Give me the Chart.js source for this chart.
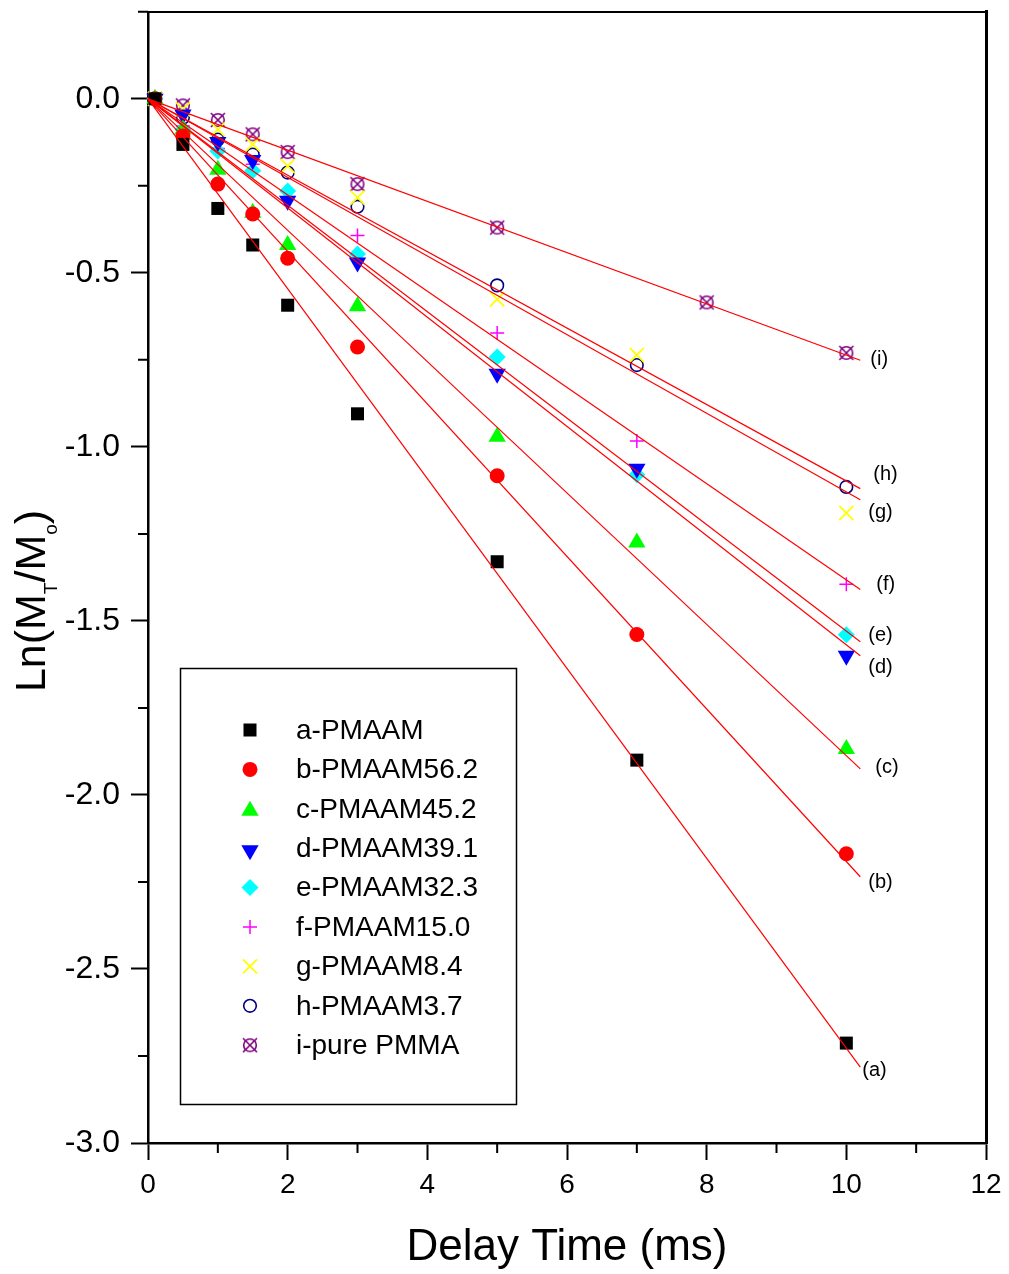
<!DOCTYPE html>
<html>
<head>
<meta charset="utf-8">
<script src="https://cdn.jsdelivr.net/npm/chart.js@4.4.1/dist/chart.umd.min.js"></script>
<style>
  html, body { margin: 0; padding: 0; background: #fff; }
  #wrap { width: 1009px; height: 1274px; position: relative; }
</style>
</head>
<body>
<div id="wrap"><canvas id="chart"></canvas></div>
<script>
// Datos
const seriesNames = ['a-PMAAM', 'b-PMAAM56.2', 'c-PMAAM45.2', 'd-PMAAM39.1', 'e-PMAAM32.3',
                     'f-PMAAM15.0', 'g-PMAAM8.4', 'h-PMAAM3.7', 'i-pure PMMA'];
const fitLabels = ['(a)', '(b)', '(c)', '(d)', '(e)', '(f)', '(g)', '(h)', '(i)'];

const delayTimes = [0.1, 0.5, 1, 1.5, 2, 3, 5, 7, 10];
const delayTimesPMMA = [0.1, 0.5, 1, 1.5, 2, 3, 5, 8, 10];

const lnA = [0, -0.131, -0.315, -0.420, -0.593, -0.905, -1.330, -1.900, -2.713];
const lnB = [0, -0.107, -0.245, -0.331, -0.458, -0.713, -1.083, -1.539, -2.169];
const lnC = [0, -0.088, -0.204, -0.327, -0.420, -0.596, -0.971, -1.275, -1.868];
const lnD = [0, -0.045, -0.124, -0.176, -0.293, -0.470, -0.790, -1.063, -1.600];
const lnE = [0, -0.088, -0.150, -0.207, -0.265, -0.446, -0.742, -1.080, -1.540];
const lnF = [0, -0.078, -0.143, -0.188, -0.265, -0.393, -0.673, -0.983, -1.395];
const lnG = [0, -0.030, -0.088, -0.131, -0.193, -0.284, -0.576, -0.736, -1.190];
const lnH = [0, -0.054, -0.117, -0.160, -0.212, -0.310, -0.536, -0.765, -1.115];
const lnI = [0, -0.019, -0.061, -0.102, -0.153, -0.245, -0.370, -0.585, -0.730];

// rectas de ajuste: desde (0,0) hasta x = 10.2
const fitRangeX = [0, 10.2];
const fitStartY = [0, 0, 0, 0, 0, 0, 0, 0, 0];
const fitEndY = [-2.782, -2.235, -1.925, -1.600, -1.560, -1.410, -1.152, -1.120, -0.751];

const xTickLabels = [0, 2, 4, 6, 8, 10, 12];
const yTickLabels = ['0.0', '-0.5', '-1.0', '-1.5', '-2.0', '-2.5', '-3.0'];

// Estilos
function crossedCircle(color) {
    const c = document.createElement('canvas');
    c.width = 20; c.height = 20;
    const g = c.getContext('2d');
    g.strokeStyle = color;
    g.lineWidth = 1.6;
    g.beginPath(); g.arc(10, 10, 6.3, 0, 2 * Math.PI); g.stroke();
    g.beginPath();
    g.moveTo(3, 3); g.lineTo(17, 17);
    g.moveTo(17, 3); g.lineTo(3, 17);
    g.stroke();
    return c;
}

const markers = [
    { color: '#000000', style: 'rect', radius: 9.2, rotation: 0, fill: true },
    { color: '#ff0000', style: 'circle', radius: 7.5, rotation: 0, fill: true },
    { color: '#00ff00', style: 'triangle', radius: 10, rotation: 0, fill: true },
    { color: '#0000ff', style: 'triangle', radius: 10, rotation: 180, fill: true },
    { color: '#00ffff', style: 'rectRot', radius: 8.5, rotation: 0, fill: true },
    { color: '#ff00ff', style: 'cross', radius: 7, rotation: 0, fill: false, width: 1.5 },
    { color: '#ffff00', style: 'crossRot', radius: 10, rotation: 0, fill: false, width: 1.8 },
    { color: '#000080', style: 'circle', radius: 6.3, rotation: 0, fill: false, width: 1.6 },
    { color: '#800080', style: crossedCircle('#800080'), radius: 8, rotation: 0, fill: false, width: 1.6 }
];

const allValues = [lnA, lnB, lnC, lnD, lnE, lnF, lnG, lnH, lnI];

const scatterSets = allValues.map((vals, i) => {
    const times = i === 8 ? delayTimesPMMA : delayTimes;
    const m = markers[i];
    return {
        label: seriesNames[i],
        data: vals.map((v, k) => ({ x: times[k], y: v })),
        pointStyle: m.style,
        pointRadius: m.radius,
        pointHoverRadius: m.radius,
        rotation: m.rotation,
        backgroundColor: m.fill ? m.color : 'rgba(0,0,0,0)',
        borderColor: m.color,
        borderWidth: m.fill ? 0 : m.width,
        showLine: false,
        clip: false,
        order: 1
    };
});

const fitSets = fitEndY.map((yEnd, i) => ({
    label: 'fit ' + fitLabels[i],
    data: [{ x: fitRangeX[0], y: fitStartY[i] }, { x: fitRangeX[1], y: yEnd }],
    showLine: true,
    borderColor: '#ff0000',
    borderWidth: 1.2,
    pointRadius: 0,
    clip: false,
    order: 0
}));

// Marcas menores (solo abajo y a la izquierda)
const minorTicks = {
    id: 'minorTicks',
    afterDraw(chart) {
        const { ctx, chartArea: a, scales } = chart;
        ctx.save();
        ctx.strokeStyle = '#000';
        ctx.lineWidth = 2;
        ctx.beginPath();
        for (let v = 1; v < 12; v += 2) {
            const px = scales.x.getPixelForValue(v);
            ctx.moveTo(px, a.bottom); ctx.lineTo(px, a.bottom + 10);
        }
        for (let v = -2.75; v <= 0.26; v += 0.5) {
            const py = scales.y.getPixelForValue(v);
            ctx.moveTo(a.left, py); ctx.lineTo(a.left - 10, py);
        }
        // el marco superior sobresale un poco a la izquierda
        ctx.moveTo(a.left - 10, a.top); ctx.lineTo(a.left, a.top);
        ctx.stroke();
        ctx.restore();
    }
};

// Etiquetas (a)...(i) al final de cada recta
const labelOffsets = [[2, 3], [8, 6], [15, -1], [8, 12], [8, -6], [16, -5], [8, 13], [13, -14], [10, -1]];
const fitTags = {
    id: 'fitTags',
    afterDatasetsDraw(chart) {
        const { ctx, scales } = chart;
        ctx.save();
        ctx.fillStyle = '#000';
        ctx.font = '20px "Liberation Sans", Arial, sans-serif';
        ctx.textAlign = 'left';
        ctx.textBaseline = 'middle';
        fitLabels.forEach((t, i) => {
            const px = scales.x.getPixelForValue(fitRangeX[1]) + labelOffsets[i][0];
            const py = scales.y.getPixelForValue(fitEndY[i]) + labelOffsets[i][1];
            ctx.fillText(t, px, py);
        });
        ctx.restore();
    }
};

// Leyenda en recuadro
const boxLegend = {
    id: 'boxLegend',
    afterDraw(chart) {
        const ctx = chart.ctx;
        ctx.save();
        ctx.strokeStyle = '#000';
        ctx.lineWidth = 1.5;
        ctx.strokeRect(180.5, 668.5, 336, 436);
        ctx.font = '28px "Liberation Sans", Arial, sans-serif';
        ctx.textBaseline = 'middle';
        seriesNames.forEach((name, i) => {
            const y = 730 + i * 39.4;
            const m = markers[i];
            ctx.fillStyle = m.fill ? m.color : 'rgba(0,0,0,0)';
            ctx.strokeStyle = m.color;
            ctx.lineWidth = m.fill ? 0 : m.width;
            Chart.helpers.drawPoint(ctx, {
                pointStyle: m.style, radius: m.radius, rotation: m.rotation,
                borderWidth: m.fill ? 0 : m.width
            }, 250, y + (m.style === 'triangle' ? 2 : 0));
            ctx.fillStyle = '#000';
            ctx.fillText(name, 296, y + 1);
        });
        ctx.restore();
    }
};

// Título del eje Y con subíndices
const yTitle = {
    id: 'yTitle',
    afterDraw(chart) {
        const ctx = chart.ctx;
        const big = '43px "Liberation Sans", Arial, sans-serif';
        const small = '19px "Liberation Sans", Arial, sans-serif';
        const parts = [['Ln(M', big, 0], ['T', small, 12], ['/M', big, 0], ['o', small, 12], [')', big, 0]];
        ctx.save();
        ctx.translate(45, 601);
        ctx.rotate(-Math.PI / 2);
        let total = 0;
        parts.forEach(p => { ctx.font = p[1]; total += ctx.measureText(p[0]).width; });
        let x = -total / 2;
        ctx.fillStyle = '#000';
        ctx.textBaseline = 'alphabetic';
        parts.forEach(p => {
            ctx.font = p[1];
            ctx.fillText(p[0], x, p[2]);
            x += ctx.measureText(p[0]).width;
        });
        ctx.restore();
    }
};

const mainGrid = { drawOnChartArea: false, tickLength: 17, tickWidth: 2, tickColor: '#000' };
const frameGrid = { drawOnChartArea: false, drawTicks: false, tickLength: 0 };
const labelFont = '"Liberation Sans", Arial, sans-serif';

new Chart(document.getElementById('chart').getContext('2d'), {
    type: 'scatter',
    data: { datasets: [...scatterSets, ...fitSets] },
    options: {
        responsive: true,
        maintainAspectRatio: false,
        animation: false,
        events: [],
        layout: { padding: 0 },
        plugins: {
            legend: { display: false },
            tooltip: { enabled: false }
        },
        scales: {
            x: {
                type: 'linear',
                position: 'bottom',
                min: xTickLabels[0],
                max: xTickLabels[xTickLabels.length - 1],
                border: { color: '#000', width: 2.5 },
                grid: mainGrid,
                ticks: {
                    stepSize: 2,
                    padding: 8,
                    color: '#000',
                    font: { family: labelFont, size: 28 },
                    callback: v => xTickLabels.includes(v) ? String(v) : ''
                },
                title: {
                    display: true,
                    text: 'Delay Time (ms)',
                    color: '#000',
                    padding: { top: 0, bottom: 0 },
                    font: { family: labelFont, size: 44 }
                },
                afterFit: s => { s.height = 131; s.paddingLeft = 0; s.paddingRight = 0; }
            },
            y: {
                type: 'linear',
                position: 'left',
                min: -3,
                max: 0.25,
                border: { color: '#000', width: 2.5 },
                grid: mainGrid,
                ticks: {
                    stepSize: 0.5,
                    includeBounds: false,
                    padding: 11,
                    color: '#000',
                    font: { family: labelFont, size: 32 },
                    callback: v => {
                        const s = v.toFixed(1);
                        return yTickLabels.includes(s) ? s : '';
                    }
                },
                afterFit: s => { s.width = 148; s.paddingTop = 0; s.paddingBottom = 0; }
            },
            x2: {
                type: 'linear',
                position: 'top',
                min: 0,
                max: 12,
                border: { color: '#000', width: 2 },
                grid: frameGrid,
                ticks: { stepSize: 2, display: false },
                afterFit: s => { s.height = 8; s.paddingLeft = 0; s.paddingRight = 0; }
            },
            y2: {
                type: 'linear',
                position: 'right',
                min: -3,
                max: 0.25,
                border: { color: '#000', width: 3 },
                grid: frameGrid,
                ticks: { stepSize: 0.5, includeBounds: false, display: false },
                afterFit: s => { s.width = 23; s.paddingTop = 0; s.paddingBottom = 0; }
            }
        }
    },
    plugins: [minorTicks, fitTags, boxLegend, yTitle]
});
</script>
</body>
</html>
